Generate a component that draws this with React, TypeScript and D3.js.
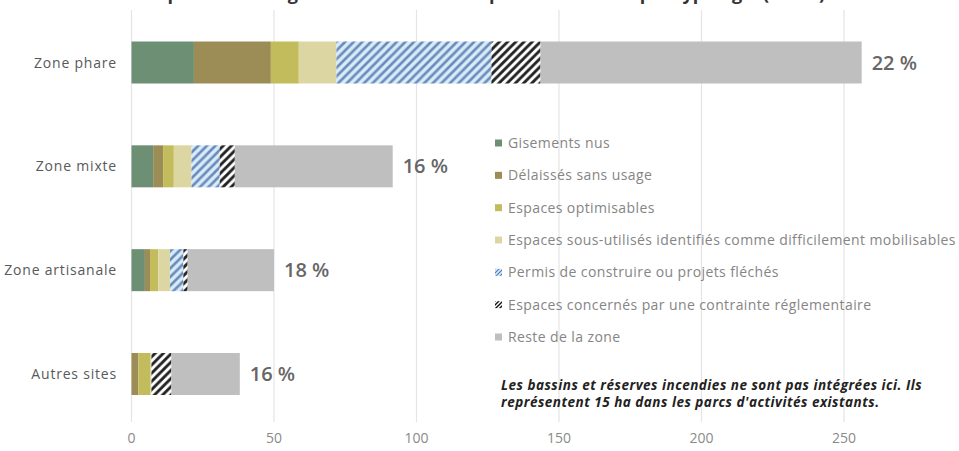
import React from "react";
import * as d3 from "d3";

const categories = ["Zone phare", "Zone mixte", "Zone artisanale", "Autres sites"];
const seriesNames = [
  "Gisements nus",
  "Délaissés sans usage",
  "Espaces optimisables",
  "Espaces sous-utilisés identifiés comme difficilement mobilisables",
  "Permis de construire ou projets fléchés",
  "Espaces concernés par une contrainte réglementaire",
  "Reste de la zone",
];
const gisementsNus = [21.9, 7.6, 4.7, 0];
const delaisses = [27, 3.5, 1.8, 2.4];
const optimisables = [9.8, 3.75, 2.9, 4.1];
const sousUtilises = [13.2, 6.2, 4.1, 0.5];
const permis = [54.4, 9.9, 4.7, 0];
const contrainte = [17.2, 5.3, 1.5, 7];
const reste = [112.7, 55.4, 30.3, 24];
const percentLabels = ["22 %", "16 %", "18 %", "16 %"];
const xTicks = [0, 50, 100, 150, 200, 250];
const title = "Répartition des gisements fonciers en parcs d'activités par typologie (en ha)";
const noteLines = [
  "Les bassins et réserves incendies ne sont pas intégrées ici. Ils",
  "représentent 15 ha dans les parcs d'activités existants.",
];

const seriesValues = [gisementsNus, delaisses, optimisables, sousUtilises, permis, contrainte, reste];
const fills = ["#6d8f74", "#9c8d56", "#c3bc5c", "#dcd7a2", "url(#hatchBlue)", "url(#hatchBlack)", "#bfbfbf"];
const legendFills = ["#6d8f74", "#9c8d56", "#c3bc5c", "#dcd7a2", "url(#hatchBlueS)", "url(#hatchBlackS)", "#bfbfbf"];

export default function App() {
  const W = 959, H = 451;
  const x = d3.scaleLinear().domain([0, 250]).range([131.5, 844]);
  const y = d3.scalePoint<string>().domain(categories).range([62.5, 374]);
  const barH = 42;
  const font = "'Open Sans', sans-serif";

  const rows = categories.map((c, i) => {
    const vals = seriesValues.map((s) => s[i]);
    const cum = d3.cumsum(vals);
    return { c, vals, cum, total: cum[cum.length - 1] };
  });

  const legendY = d3.scaleLinear().domain([0, 6]).range([143, 337]);

  return (
    <svg width={W} height={H} style={{ position: "absolute", left: 0, top: 0, background: "#fff" }}>
      <defs>
        <pattern id="hatchBlue" patternUnits="userSpaceOnUse" width="8.6" height="8.6">
          <rect width="8.6" height="8.6" fill="#d8ebf7" />
          <path d="M-2.15,2.15 l4.3,-4.3 M0,8.6 l8.6,-8.6 M6.45,10.75 l4.3,-4.3" stroke="#6a8bbd" strokeWidth="2.6" />
        </pattern>
        <pattern id="hatchBlack" patternUnits="userSpaceOnUse" width="8.2" height="8.2">
          <rect width="8.2" height="8.2" fill="#ffffff" />
          <path d="M-2.05,2.05 l4.1,-4.1 M0,8.2 l8.2,-8.2 M6.15,10.25 l4.1,-4.1" stroke="#222" strokeWidth="2.8" />
        </pattern>
        <pattern id="hatchBlueS" patternUnits="userSpaceOnUse" width="4" height="4">
          <rect width="4" height="4" fill="#d8ebf7" />
          <path d="M-1,1 l2,-2 M0,4 l4,-4 M3,5 l2,-2" stroke="#4a79c0" strokeWidth="1.2" />
        </pattern>
        <pattern id="hatchBlackS" patternUnits="userSpaceOnUse" width="4" height="4">
          <rect width="4" height="4" fill="#fff" />
          <path d="M-1,1 l2,-2 M0,4 l4,-4 M3,5 l2,-2" stroke="#111" strokeWidth="1.4" />
        </pattern>
      </defs>

      <text x={485} y={0} textAnchor="middle" fontFamily={font} fontWeight={700} fontSize={18} fill="#333">
        {title}
      </text>

      {xTicks.map((t) => (
        <g key={t}>
          <line x1={x(t)} x2={x(t)} y1={10} y2={422} stroke="#e4e4e4" strokeWidth={1.2} />
          <text x={x(t)} y={443} textAnchor="middle" fontFamily={font} fontSize={14} fill="#8a8a8a">
            {t}
          </text>
        </g>
      ))}

      {rows.map((r, i) => {
        const cy = y(r.c)!;
        return (
          <g key={r.c}>
            <text x={117} y={cy + 5} textAnchor="end" fontFamily={font} fontSize={14} letterSpacing={0.8} fill="#595959">
              {r.c}
            </text>
            {r.vals.map((v, k) => {
              if (v <= 0) return null;
              const x0 = x(r.cum[k] - v);
              const x1 = x(r.cum[k]);
              return <rect key={k} x={x0} y={cy - barH / 2} width={x1 - x0} height={barH} fill={fills[k]} />;
            })}
            <text x={x(r.total) + 10} y={cy + 7} fontFamily={font} fontSize={20} fontWeight={600} fill="#666">
              {percentLabels[i]}
            </text>
          </g>
        );
      })}

      {seriesNames.map((n, k) => {
        const ly = legendY(k);
        return (
          <g key={n}>
            <rect x={495} y={ly - 3.5} width={7} height={7} fill={legendFills[k]} />
            <text x={508} y={ly + 5} fontFamily={font} fontSize={14} letterSpacing={0.4} fill="#858585">
              {n}
            </text>
          </g>
        );
      })}

      {noteLines.map((l, i) => (
        <text key={i} x={501} y={390 + i * 17} fontFamily={font} fontSize={13.5} letterSpacing={0.5} fontWeight={700} fontStyle="italic" fill="#222">
          {l}
        </text>
      ))}
    </svg>
  );
}
